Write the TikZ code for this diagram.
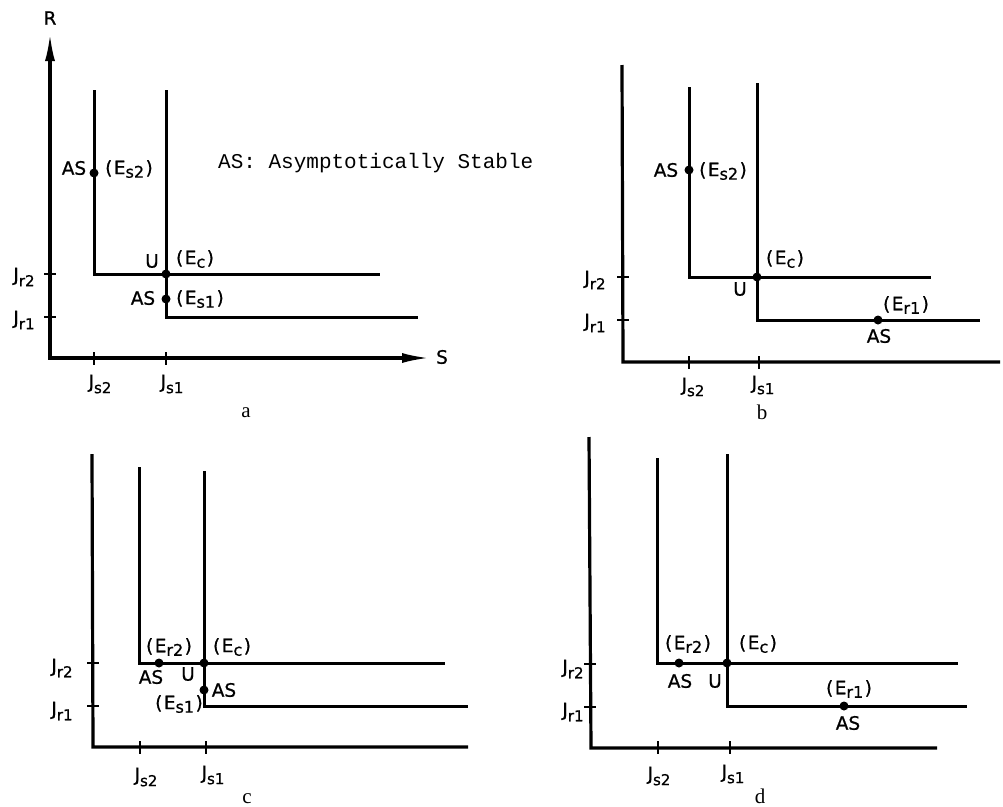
\documentclass[tikz,border=0pt]{standalone}
\usepackage{fontspec}
\newfontfamily\labf[FakeBold=0.8]{DejaVu Sans}
\newfontfamily\monof{Liberation Mono}
\newfontfamily\serf{Liberation Serif}
\usetikzlibrary{arrows.meta}
\newcommand\lsub[1]{\raisebox{-3.5pt}{\fontsize{16}{16}\selectfont #1}}
\newcommand\jsub[1]{\raisebox{-5pt}{\fontsize{15}{15}\selectfont #1}}
\newcommand\pE[1]{(\kern1.5pt E\lsub{#1}\kern1.5pt)}
\tikzset{
  lab/.style={font=\labf\fontsize{18.5}{18.5}\selectfont, inner sep=0pt},
  plab/.style={font=\serf\fontsize{21}{21}\selectfont, inner sep=0pt, anchor=base},
  curve/.style={line width=3pt, line join=miter},
  axis/.style={line width=3.2pt, line join=miter},
  tickm/.style={line width=2.4pt},
  dot/.style={circle, fill, inner sep=0pt, minimum size=9pt}
}
\begin{document}
\begin{tikzpicture}[x=1pt,y=-1pt]
\useasboundingbox (0,0) rectangle (1003,806);
% ===================== panel a =====================
\coordinate (aO) at (50,358);
\coordinate (aR) at (50,33);
\coordinate (aS) at (430,358);
\draw[axis,{Latex[length=28pt,width=10pt]}-{Latex[length=28pt,width=10pt]}] (aR) -- (aO) -- (aS);
\node[lab] (aRl) at (50,18) {R};
\node[lab] (aSl) at (442,357) {S};
\coordinate (a2t) at (94,90);
\coordinate (a2c) at (94,274);
\coordinate (a2e) at (380,274);
\coordinate (a1t) at (166,90);
\coordinate (a1c) at (166,317);
\coordinate (a1e) at (418,317);
\draw[curve] (a2t) -- (a2c) -- (a2e);
\draw[curve] (a1t) -- (a1c) -- (a1e);
\foreach \x in {94,166} \draw[tickm] (\x,352) -- (\x,365);
\foreach \y in {274,317} \draw[tickm] (44,\y) -- (56,\y);
\node[dot] (aEs2) at (94,173) {};
\node[dot] (aEc) at (166,274) {};
\node[dot] (aEs1) at (166,299) {};
\node[lab] (aAS2) at (74,168) {AS};
\node[lab] (aEs2l) at (129,169) {\pE{s2}};
\node[lab] (aU) at (152,261) {U};
\node[lab] (aEcl) at (195,259) {\pE{c}};
\node[lab] (aAS1) at (143,298) {AS};
\node[lab] (aEs1l) at (200,299) {\pE{s1}};
\node[lab] (aJr2) at (24,277) {J\jsub{r2}};
\node[lab] (aJr1) at (24,320) {J\jsub{r1}};
\node[lab] (aJs2) at (100,384) {J\jsub{s2}};
\node[lab] (aJs1) at (172,384) {J\jsub{s1}};
\node[plab] (alet) at (246,417) {a};
\node[font=\monof\fontsize{21}{21}\selectfont, inner sep=0pt, anchor=west] (legend) at (218,163) {AS: Asymptotically Stable};
% ===================== panel b =====================
\coordinate (bO) at (623,362);
\coordinate (bR) at (622,65);
\coordinate (bS) at (1000,362);
\draw[axis] (bR) -- (bO) -- (bS);
\coordinate (b2t) at (689,87);
\coordinate (b2c) at (689,277);
\coordinate (b2e) at (931,277);
\coordinate (b1t) at (757,83);
\coordinate (b1c) at (757,320);
\coordinate (b1e) at (980,320);
\draw[curve] (b2t) -- (b2c) -- (b2e);
\draw[curve] (b1t) -- (b1c) -- (b1e);
\foreach \x in {689,759} \draw[tickm] (\x,356) -- (\x,369);
\foreach \y in {277,320} \draw[tickm] (617,\y) -- (629,\y);
\node[dot] (bEs2) at (689,170) {};
\node[dot] (bEc) at (757,277) {};
\node[dot] (bEr1) at (878,320) {};
\node[lab] (bAS2) at (666,170) {AS};
\node[lab] (bEs2l) at (723,171) {\pE{s2}};
\node[lab] (bEcl) at (785,259) {\pE{c}};
\node[lab] (bU) at (740,289) {U};
\node[lab] (bEr1l) at (906,305) {\pE{r1}};
\node[lab] (bAS1) at (879,336) {AS};
\node[lab] (bJr2) at (595,280) {J\jsub{r2}};
\node[lab] (bJr1) at (595,323) {J\jsub{r1}};
\node[lab] (bJs2) at (693,387) {J\jsub{s2}};
\node[lab] (bJs1) at (763,385) {J\jsub{s1}};
\node[plab] (blet) at (762,419) {b};
% ===================== panel c =====================
\coordinate (cO) at (93,747);
\coordinate (cR) at (92,454);
\coordinate (cS) at (468,747);
\draw[axis] (cR) -- (cO) -- (cS);
\coordinate (c2t) at (139,467);
\coordinate (c2c) at (139,663);
\coordinate (c2e) at (445,663);
\coordinate (c1t) at (204,471);
\coordinate (c1c) at (204,706);
\coordinate (c1e) at (468,706);
\draw[curve] (c2t) -- (c2c) -- (c2e);
\draw[curve] (c1t) -- (c1c) -- (c1e);
\foreach \x in {140,206} \draw[tickm] (\x,741) -- (\x,754);
\foreach \y in {663,706} \draw[tickm] (87,\y) -- (99,\y);
\node[dot] (cEr2) at (159,663) {};
\node[dot] (cEc) at (204,663) {};
\node[dot] (cEs1) at (204,690) {};
\node[lab] (cEr2l) at (169,647) {\pE{r2}};
\node[lab] (cAS2) at (151,677) {AS};
\node[lab] (cU) at (188,674) {U};
\node[lab] (cEcl) at (232,647) {\pE{c}};
\node[lab] (cAS1) at (224,690) {AS};
\node[lab] (cEs1l) at (179,704) {\pE{s1}};
\node[lab] (cJr2) at (62,668) {J\jsub{r2}};
\node[lab] (cJr1) at (62,711) {J\jsub{r1}};
\node[lab] (cJs2) at (146,777) {J\jsub{s2}};
\node[lab] (cJs1) at (213,775) {J\jsub{s1}};
\node[plab] (clet) at (247,803) {c};
% ===================== panel d =====================
\coordinate (dO) at (591,748);
\coordinate (dR) at (589,437);
\coordinate (dS) at (937,748);
\draw[axis] (dR) -- (dO) -- (dS);
\coordinate (d2t) at (657,458);
\coordinate (d2c) at (657,663);
\coordinate (d2e) at (958,663);
\coordinate (d1t) at (727,454);
\coordinate (d1c) at (727,706);
\coordinate (d1e) at (967,706);
\draw[curve] (d2t) -- (d2c) -- (d2e);
\draw[curve] (d1t) -- (d1c) -- (d1e);
\foreach \x in {658,730} \draw[tickm] (\x,741) -- (\x,754);
\foreach \y in {664,707} \draw[tickm] (584,\y) -- (596,\y);
\node[dot] (dEr2) at (679,663) {};
\node[dot] (dEc) at (727,663) {};
\node[dot] (dEr1) at (844,706) {};
\node[lab] (dEr2l) at (688,644) {\pE{r2}};
\node[lab] (dAS2) at (680,681) {AS};
\node[lab] (dU) at (715,681) {U};
\node[lab] (dEcl) at (758,644) {\pE{c}};
\node[lab] (dEr1l) at (849,689) {\pE{r1}};
\node[lab] (dAS1) at (848,723) {AS};
\node[lab] (dJr2) at (573,669) {J\jsub{r2}};
\node[lab] (dJr1) at (573,712) {J\jsub{r1}};
\node[lab] (dJs2) at (659,776) {J\jsub{s2}};
\node[lab] (dJs1) at (733,774) {J\jsub{s1}};
\node[plab] (dlet) at (760,803) {d};
\end{tikzpicture}
\end{document}
